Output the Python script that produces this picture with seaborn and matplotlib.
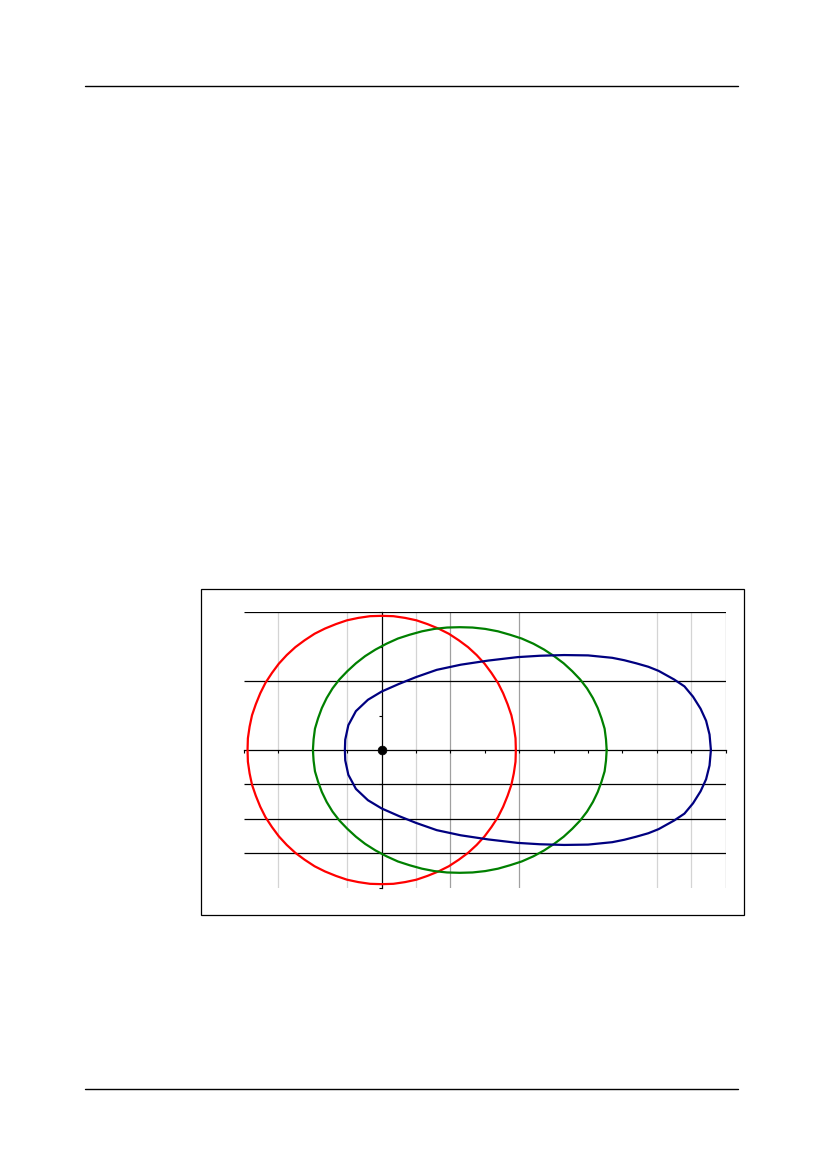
import matplotlib
matplotlib.use("Agg")
import matplotlib.pyplot as plt
import pandas as pd
import seaborn as sns
from matplotlib.lines import Line2D
from matplotlib.patches import Rectangle

# curve points (data units)
red_x = [3.90, 3.89, 3.84, 3.77, 3.66, 3.53, 3.38, 3.19, 2.99, 2.76, 2.51, 2.24,
         1.95, 1.65, 1.33, 1.01, 0.68, 0.34, 0.00,
         -0.34, -0.68, -1.01, -1.33, -1.65, -1.95, -2.24, -2.51, -2.76, -2.99, -3.19,
         -3.38, -3.53, -3.66, -3.77, -3.84, -3.89, -3.90,
         -3.89, -3.84, -3.77, -3.66, -3.53, -3.38, -3.19, -2.99, -2.76, -2.51, -2.24,
         -1.95, -1.65, -1.33, -1.01, -0.68, -0.34, 0.00,
         0.34, 0.68, 1.01, 1.33, 1.65, 1.95, 2.24, 2.51, 2.76, 2.99, 3.19,
         3.38, 3.53, 3.66, 3.77, 3.84, 3.89, 3.90]
red_y = [0.00, 0.34, 0.68, 1.01, 1.33, 1.65, 1.95, 2.24, 2.51, 2.76, 2.99, 3.19,
         3.38, 3.53, 3.66, 3.77, 3.84, 3.89, 3.90,
         3.89, 3.84, 3.77, 3.66, 3.53, 3.38, 3.19, 2.99, 2.76, 2.51, 2.24,
         1.95, 1.65, 1.33, 1.01, 0.68, 0.34, 0.00,
         -0.34, -0.68, -1.01, -1.33, -1.65, -1.95, -2.24, -2.51, -2.76, -2.99, -3.19,
         -3.38, -3.53, -3.66, -3.77, -3.84, -3.89, -3.90,
         -3.89, -3.84, -3.77, -3.66, -3.53, -3.38, -3.19, -2.99, -2.76, -2.51, -2.24,
         -1.95, -1.65, -1.33, -1.01, -0.68, -0.34, 0.00]

green_x = [6.54, 6.52, 6.48, 6.39, 6.28, 6.14, 5.97, 5.77, 5.54, 5.29, 5.01, 4.72,
           4.41, 4.07, 3.73, 3.38, 3.01, 2.64, 2.27,
           1.90, 1.53, 1.17, 0.81, 0.47, 0.14, -0.18, -0.48, -0.75, -1.00, -1.23,
           -1.43, -1.60, -1.74, -1.85, -1.94, -1.98, -2.00,
           -1.98, -1.94, -1.85, -1.74, -1.60, -1.43, -1.23, -1.00, -0.75, -0.48, -0.18,
           0.14, 0.47, 0.81, 1.17, 1.53, 1.90, 2.27,
           2.64, 3.01, 3.38, 3.73, 4.07, 4.41, 4.72, 5.01, 5.29, 5.54, 5.77,
           5.97, 6.14, 6.28, 6.39, 6.48, 6.52, 6.54]
green_y = [0.00, 0.31, 0.62, 0.92, 1.22, 1.51, 1.79, 2.05, 2.29, 2.52, 2.73, 2.92,
           3.09, 3.24, 3.35, 3.45, 3.52, 3.56, 3.57,
           3.56, 3.52, 3.45, 3.35, 3.24, 3.09, 2.92, 2.73, 2.52, 2.29, 2.05,
           1.79, 1.51, 1.22, 0.92, 0.62, 0.31, 0.00,
           -0.31, -0.62, -0.92, -1.22, -1.51, -1.79, -2.05, -2.29, -2.52, -2.73, -2.92,
           -3.09, -3.24, -3.35, -3.45, -3.52, -3.56, -3.57,
           -3.56, -3.52, -3.45, -3.35, -3.24, -3.09, -2.92, -2.73, -2.52, -2.29, -2.05,
           -1.79, -1.51, -1.22, -0.92, -0.62, -0.31, 0.00]

blue_x = [9.57, 9.53, 9.43, 9.27, 9.05, 8.80, 8.50, 8.05, 7.75, 7.40, 7.05, 6.70,
          6.00, 5.30, 4.60, 3.95, 3.10, 2.30, 1.60, 1.00, 0.50, 0.00, -0.40, -0.75,
          -0.97, -1.06, -1.07, -1.06, -0.97, -0.75, -0.40, 0.00, 0.50, 1.00, 1.60,
          2.30, 3.10, 3.95, 4.60, 5.30, 6.00, 6.70, 7.05, 7.40, 7.75, 8.05, 8.50,
          8.80, 9.05, 9.27, 9.43, 9.53, 9.57]
blue_y = [0.00, 0.45, 0.85, 1.20, 1.55, 1.85, 2.05, 2.30, 2.42, 2.52, 2.61, 2.68,
          2.75, 2.76, 2.74, 2.70, 2.60, 2.48, 2.33, 2.12, 1.92, 1.70, 1.46, 1.13,
          0.72, 0.30, 0.00, -0.30, -0.72, -1.13, -1.46, -1.70, -1.92, -2.12, -2.33,
          -2.48, -2.60, -2.70, -2.74, -2.76, -2.75, -2.68, -2.61, -2.52, -2.42, -2.30,
          -2.05, -1.85, -1.55, -1.20, -0.85, -0.45, 0.00]

center_x = [0.0]
center_y = [0.0]

# grid lines as they appear in the chart
black_rows = [4, 2, -1, -2, -3]
light_cols = [-3, -1, 1, 8, 9]
dark_cols = [2, 4, 10]

CURVES = [
    ("red", red_x, red_y, "#ff0000"),
    ("green", green_x, green_y, "#008000"),
    ("blue", blue_x, blue_y, "#000080"),
]

sns.set_style("white")

fig = plt.figure(figsize=(8.27, 11.69), dpi=100)
W, H = 827, 1169

# page header / footer rules
for yy in (86, 1089):
    fig.add_artist(Line2D([85 / W, 738 / W], [1 - yy / H, 1 - yy / H],
                          color="black", lw=1.0))

# chart frame
fig.add_artist(Rectangle((201 / W, 1 - 915 / H), 543 / W, 326 / H,
                         fill=False, edgecolor="black", lw=0.9))

ax = fig.add_axes([244.1 / W, 1 - 887.6 / H, 481.6 / W, 275.2 / H])
ax.set_xlim(-4, 10)
ax.set_ylim(-4, 4)

ax.vlines(light_cols, -4, 4, color="#d4d4d4", lw=0.9, zorder=0)
ax.vlines(dark_cols, -4, 4, color="#a0a0a0", lw=0.9, zorder=0)
ax.hlines(black_rows, -4, 10, color="black", lw=0.9, zorder=1)

for name, xs, ys, color in CURVES:
    df = pd.DataFrame({"x": xs, "y": ys})
    sns.lineplot(data=df, x="x", y="y", sort=False, estimator=None,
                 color=color, lw=1.6, solid_joinstyle="round", ax=ax, zorder=3)

sns.scatterplot(x=center_x, y=center_y, color="black", s=40,
                edgecolor="black", ax=ax, zorder=5)

for side in ("top", "right"):
    ax.spines[side].set_visible(False)
ax.spines["left"].set_position(("data", 0))
ax.spines["bottom"].set_position(("data", 0))
for side in ("left", "bottom"):
    ax.spines[side].set_color("black")
    ax.spines[side].set_linewidth(0.9)
    ax.spines[side].set_zorder(2)

ax.set_xticks(range(-4, 11))
ax.set_yticks(range(-4, 5))
ax.set_xticklabels([])
ax.set_yticklabels([])
ax.tick_params(direction="out", length=2.5, width=0.8, color="black",
               bottom=True, left=True)
ax.set_xlabel("")
ax.set_ylabel("")
ax.patch.set_alpha(0)

fig.savefig("out.png", dpi=100)
